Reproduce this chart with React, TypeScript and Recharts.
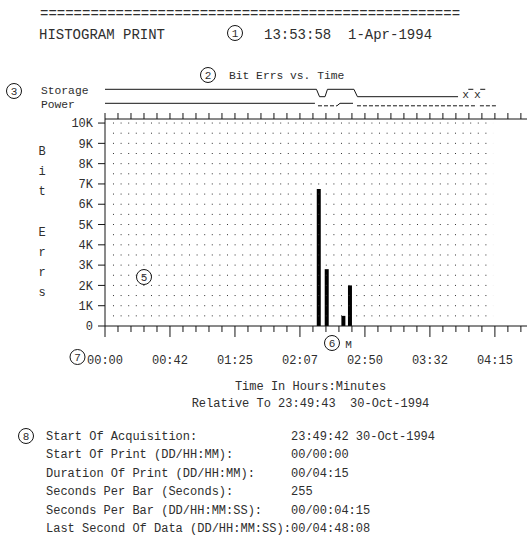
import React from 'react';
import { ComposedChart, LineChart, Line, Bar, XAxis, YAxis, ReferenceLine } from 'recharts';

const FONT = "'Liberation Mono', 'Courier New', 'DejaVu Sans Mono', monospace";
const INK = '#151515';
const TXT = '#2e2e2e';

// ---- histogram data (time in minutes from start of print, bit errors per bar)
const barTimes = [140.0, 145.2, 156.1, 160.4];
const bitErrors = [6750, 2800, 500, 2000];

// ---- axes
const errTicks = [0, 1000, 2000, 3000, 4000, 5000, 6000, 7000, 8000, 9000, 10000];
const errTickLabels = ['0', '1K', '2K', '3K', '4K', '5K', '6K', '7K', '8K', '9K', '10K'];
const gridLevels = [500, 1000, 1500, 2000, 2500, 3000, 3500, 4000, 4500, 5000, 5500, 6000, 6500, 7000, 7500, 8000, 8500, 9000, 9500, 10000];
const timeTicks = [0, 8.5, 17, 25.5, 34, 42.5, 51, 59.5, 68, 76.5, 85, 93.5, 102, 110.5, 119, 127.5, 136, 144.5, 153, 161.5, 170, 178.5, 187, 195.5, 204, 212.5, 221, 229.5, 238, 246.5, 255, 263.5, 272];
const timeLabels = ['00:00', '00:42', '01:25', '02:07', '02:50', '03:32', '04:15'];

// ---- status timelines (1 = high state, 0 = low state)
const storageTimes = [0, 138.3, 140.3, 143.9, 145.5, 162.8, 165.1, 230.9];
const storageStates = [1, 1, 0, 0, 1, 1, 0, 0];
const storageUnknownTimes = [235.8, 243.6];
const storageUnknownDashTimes = [237.6, 240.9, 242.0, 245.4, 248.7];
const storageUnknownDashStates = [1, 1, null, 1, 1];
const powerSolidTimes = [0, 137.3, 145.0, 151.7, 153.7, 162.2];
const powerSolidStates = [1, 1, null, 0, 1, 1];
const powerDashTimes = [139.3, 151.7, 158.0, 164.8, 243.3, 244.2, 245.2, 256.4];
const powerDashStates = [0, 0, null, 0, 0, null, 0, 0];

const footerLabels = [
  'Start Of Acquisition:',
  'Start Of Print (DD/HH:MM):',
  'Duration Of Print (DD/HH:MM):',
  'Seconds Per Bar (Seconds):',
  'Seconds Per Bar (DD/HH:MM:SS):',
  'Last Second Of Data (DD/HH:MM:SS):',
];
const footerValues = ['23:49:42 30-Oct-1994', '00/00:00', '00/04:15', '255', '00/00:04:15', '00/04:48:08'];

const yLetters = ['B', 'i', 't', '', 'E', 'r', 'r', 's'];

const barData = barTimes.map((t, i) => ({ t, v: bitErrors[i] }));
const storageData = storageTimes.map((t, i) => ({ t, s: storageStates[i] }));
const storageUnknownData = storageUnknownTimes.map((t) => ({ t, s: 0 }));
const storageUnknownDash = storageUnknownDashTimes.map((t, i) => ({ t, s: storageUnknownDashStates[i] }));
const powerSolidData = powerSolidTimes.map((t, i) => ({ t, p: powerSolidStates[i] }));
const powerDashData = powerDashTimes.map((t, i) => ({ t, p: powerDashStates[i] }));

const DOMAIN: [number, number] = [0, 276];

const BottomTick = (props: any) => {
  const { x, y, payload } = props;
  const k = Math.round(payload.value / 8.5);
  const major = k % 5 === 0;
  return (
    <g>
      <line x1={x} x2={x} y1={y} y2={y + (major ? 11 : 6)} stroke={INK} strokeWidth={1} />
      {major ? (
        <text x={x} y={y + 38} textAnchor="middle" fontFamily={FONT} fontSize={12} fill={TXT}>
          {timeLabels[k / 5]}
        </text>
      ) : null}
    </g>
  );
};

const TopTick = (props: any) => {
  const { x, y } = props;
  return <line x1={x} x2={x} y1={y} y2={y - 6} stroke={INK} strokeWidth={1} />;
};

const Circ = ({ cx, cy, n }: { cx: number; cy: number; n: string }) => (
  <g>
    <circle cx={cx} cy={cy} r={7.5} fill="none" stroke={INK} strokeWidth={1} />
    <text x={cx} y={cy + 4} textAnchor="middle" fontFamily={FONT} fontSize={11} fill={TXT}>
      {n}
    </text>
  </g>
);

export default function App() {
  const txt = { fontFamily: FONT, fill: TXT, whiteSpace: 'pre' as const };
  return (
    <div style={{ position: 'absolute', left: 0, top: 0, width: 527, height: 535, overflow: 'hidden', background: '#fff', fontFamily: FONT }}>
      {/* status timelines */}
      <div style={{ position: 'absolute', left: 0, top: 0 }}>
        <LineChart width={527} height={120} margin={{ top: 80, right: 0, left: 105, bottom: 8 }}>
          <XAxis type="number" dataKey="t" domain={DOMAIN} hide allowDataOverflow />
          <YAxis yAxisId="s" hide domain={[-2.068, 2.257]} allowDataOverflow />
          <YAxis yAxisId="p" hide domain={[-2.48, 10.32]} allowDataOverflow />
          <Line yAxisId="s" data={storageData} dataKey="s" stroke={INK} strokeWidth={1} dot={false} isAnimationActive={false} />
          <Line yAxisId="s" data={storageUnknownDash} dataKey="s" stroke={INK} strokeWidth={1} dot={false} isAnimationActive={false} />
          <Line
            yAxisId="s"
            data={storageUnknownData}
            dataKey="s"
            stroke="none"
            isAnimationActive={false}
            dot={(p: any) => (
              <text key={`x${p.index}`} x={p.cx} y={p.cy + 1.6} textAnchor="middle" fontFamily={FONT} fontSize={11.3} fill={TXT}>
                x
              </text>
            )}
          />
          <Line yAxisId="p" data={powerSolidData} dataKey="p" stroke={INK} strokeWidth={1} dot={false} isAnimationActive={false} />
          <Line yAxisId="p" data={powerDashData} dataKey="p" stroke={INK} strokeWidth={1} strokeDasharray="4 2" dot={false} isAnimationActive={false} />
        </LineChart>
      </div>

      {/* histogram */}
      <div style={{ position: 'absolute', left: 0, top: 0 }}>
        <ComposedChart width={527} height={380} data={barData} margin={{ top: 113, right: 0, left: 0, bottom: 14 }}>
          <XAxis
            xAxisId="top"
            orientation="top"
            type="number"
            dataKey="t"
            domain={DOMAIN}
            ticks={timeTicks}
            interval={0}
            height={6}
            tickSize={0}
            tickMargin={0}
            tickLine={false}
            tick={<TopTick />}
            axisLine={{ stroke: INK, strokeWidth: 1 }}
            allowDataOverflow
          />
          <XAxis
            type="number"
            dataKey="t"
            domain={DOMAIN}
            ticks={timeTicks}
            interval={0}
            height={40}
            tickSize={0}
            tickMargin={0}
            tickLine={false}
            tick={<BottomTick />}
            axisLine={{ stroke: INK, strokeWidth: 1 }}
            allowDataOverflow
          />
          <YAxis
            type="number"
            domain={[0, 10200]}
            ticks={errTicks}
            interval={0}
            width={105}
            tickSize={7}
            tickMargin={5}
            tickFormatter={(v: number) => errTickLabels[errTicks.indexOf(v)]}
            tick={{ fontFamily: FONT, fontSize: 12, fill: TXT }}
            tickLine={{ stroke: INK }}
            axisLine={{ stroke: INK, strokeWidth: 1 }}
            allowDataOverflow
          />
          {gridLevels.map((lv) => (
            <ReferenceLine
              key={lv}
              segment={[{ x: 5.23, y: lv }, { x: 253.8, y: lv }]}
              stroke="#333"
              strokeWidth={1}
              strokeDasharray="1 6.6"
            />
          ))}
          <Bar dataKey="v" fill="#000" barSize={4} isAnimationActive={false} />
        </ComposedChart>
      </div>

      {/* text & annotations */}
      <svg width={527} height={535} style={{ position: 'absolute', left: 0, top: 0, pointerEvents: 'none' }}>
        <text x={40} y={18} fontSize={14} style={txt}>{'=================================================='}</text>
        <text x={39} y={39} fontSize={14} style={txt}>HISTOGRAM PRINT</text>
        <text x={264} y={39} fontSize={14} style={txt}>{'13:53:58  1-Apr-1994'}</text>
        <Circ cx={235} cy={33} n="1" />

        <Circ cx={208} cy={75} n="2" />
        <text x={229} y={79} fontSize={11.3} style={txt}>Bit Errs vs. Time</text>

        <Circ cx={14} cy={91} n="3" />
        <text x={41} y={94} fontSize={11.3} style={txt}>Storage</text>
        <text x={41} y={108} fontSize={11.3} style={txt}>Power</text>

        {yLetters.map((ch, i) => (
          <text key={i} x={42} y={155 + i * 20.2} fontSize={12} textAnchor="middle" style={txt}>
            {ch}
          </text>
        ))}

        <Circ cx={144} cy={277} n="5" />
        <Circ cx={332} cy={343} n="6" />
        <text x={348.5} y={348} fontSize={11} textAnchor="middle" style={txt}>M</text>
        <Circ cx={77.5} cy={357} n="7" />

        <text x={310.5} y={390} fontSize={12} textAnchor="middle" style={txt}>Time In Hours:Minutes</text>
        <text x={310.5} y={407} fontSize={12} textAnchor="middle" style={txt}>{'Relative To 23:49:43  30-Oct-1994'}</text>

        <Circ cx={26} cy={436} n="8" />
        {footerLabels.map((l, i) => (
          <text key={l} x={46} y={440 + i * 18.4} fontSize={12} style={txt}>
            {l}
          </text>
        ))}
        {footerValues.map((v, i) => (
          <text key={i} x={291} y={440 + i * 18.4} fontSize={12} style={txt}>
            {v}
          </text>
        ))}
      </svg>
    </div>
  );
}
